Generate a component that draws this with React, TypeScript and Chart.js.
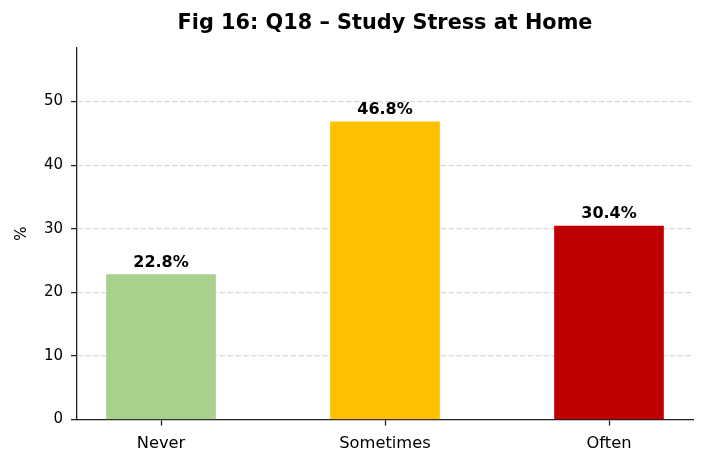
import React, { useEffect, useRef } from 'react';
import { Chart, registerables } from 'chart.js';

Chart.register(...registerables);

const categories = ['Never', 'Sometimes', 'Often'];
const percentages = [22.8, 46.8, 30.4];
const barColors = ['#a9d18e', '#ffc000', '#c00000'];
const yTicks = [0, 10, 20, 30, 40, 50];
const chartTitle = 'Fig 16: Q18 – Study Stress at Home';

const FONT = "'DejaVu Sans', sans-serif";
const AXIS = '#222222';

// title centred over the plot area, value labels above each bar
const annotations = {
  id: 'annotations',
  afterDatasetsDraw(chart: Chart) {
    const ctx = chart.ctx;
    const area = chart.chartArea;
    const meta = chart.getDatasetMeta(0);
    ctx.save();
    ctx.fillStyle = '#000';
    ctx.textAlign = 'center';

    ctx.font = `bold 20.8px ${FONT}`;
    ctx.textBaseline = 'middle';
    ctx.fillText(chartTitle, (area.left + area.right) / 2, 24);

    ctx.font = `bold 16px ${FONT}`;
    ctx.textBaseline = 'bottom';
    meta.data.forEach((bar: any, i: number) => {
      ctx.fillText(percentages[i].toFixed(1) + '%', bar.x, bar.y - 4);
    });
    ctx.restore();
  },
};

const App: React.FC = () => {
  const canvasRef = useRef<HTMLCanvasElement>(null);

  useEffect(() => {
    document.body.style.margin = '0';
    if (!canvasRef.current) return;
    const chart = new Chart(canvasRef.current, {
      type: 'bar',
      data: {
        datasets: [
          {
            data: percentages.map((v, i) => ({ x: i, y: v })),
            backgroundColor: barColors,
            barThickness: 109,
          },
        ],
      },
      options: {
        responsive: false,
        animation: false,
        layout: { padding: { left: 0, right: 14, top: 47.5, bottom: 0 } },
        plugins: {
          legend: { display: false },
          tooltip: { enabled: false },
          title: { display: false },
        },
        scales: {
          x: {
            type: 'linear',
            offset: false,
            min: -0.375,
            max: 2.375,
            afterBuildTicks: (scale: any) => {
              scale.ticks = categories.map((_, i) => ({ value: i }));
            },
            afterFit: (scale: any) => {
              scale.height = 47.5;
            },
            ticks: {
              color: '#000',
              font: { family: FONT, size: 16.3 },
              padding: 8,
              callback: (v: any) => categories[v] ?? '',
            },
            grid: {
              offset: false,
              drawOnChartArea: false,
              drawTicks: true,
              tickLength: 6,
              tickColor: AXIS,
              tickWidth: 1.3,
            },
            border: { color: AXIS, width: 1.3 },
          },
          y: {
            min: 0,
            max: 58.5,
            afterBuildTicks: (scale: any) => {
              scale.ticks = yTicks.map((v) => ({ value: v }));
            },
            afterFit: (scale: any) => {
              scale.width = 77;
            },
            title: {
              display: true,
              text: '%',
              color: '#000',
              font: { family: FONT, size: 15 },
              padding: { top: 13, bottom: 0 },
            },
            ticks: {
              color: '#000',
              font: { family: FONT, size: 15 },
              padding: 8,
            },
            grid: {
              color: '#d9d9d9',
              lineWidth: 1.2,
              tickBorderDash: [],
              tickLength: 6,
              tickColor: AXIS,
              tickWidth: 1.3,
            } as any,
            border: { color: AXIS, width: 1.3, dash: [5.5, 2.4] },
          },
        },
      },
      plugins: [annotations],
    });
    return () => chart.destroy();
  }, []);

  return (
    <div style={{ width: 707, height: 467, background: '#fff' }}>
      <canvas ref={canvasRef} width={707} height={467} />
    </div>
  );
};

export default App;
